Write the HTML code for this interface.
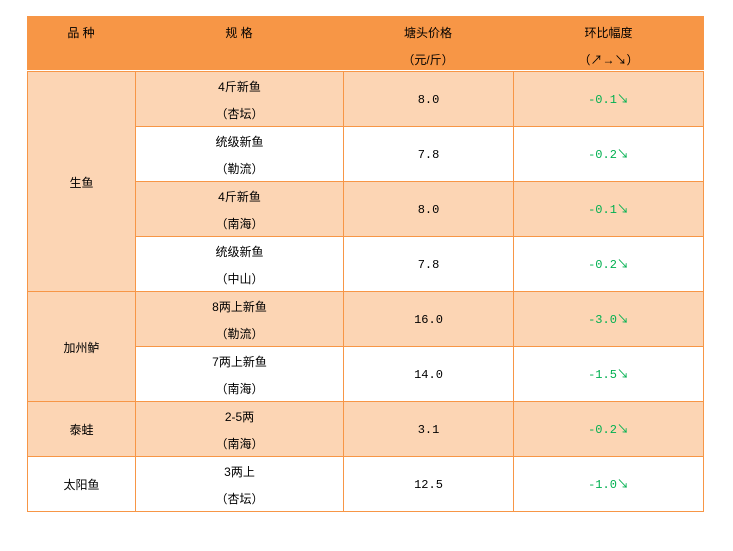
<!DOCTYPE html>
<html><head><meta charset="utf-8"><style>
body{margin:0;width:733px;height:551px;background:#fff;font-family:"Liberation Sans","Noto Sans CJK SC",sans-serif;font-size:12px;color:#000;position:relative;overflow:hidden}
.c{position:absolute;box-sizing:border-box;display:flex;flex-direction:column;align-items:center;justify-content:center;text-align:center;line-height:27px;padding-top:3px}
.h{background:#F79646;justify-content:flex-start;padding-top:4px}
.o{background:#FCD5B4}
.w{background:#fff}
.b{border:1px solid #F79646}
.g{color:#00B050;font-family:"Liberation Mono","Noto Sans CJK SC",monospace}
.n{font-family:"Liberation Mono",monospace}
</style></head><body>
<div class="c h" style="left:27px;top:16px;width:677px;height:55px"></div>
<div class="c h" style="left:27px;top:16px;width:108px;height:55px">品 种</div>
<div class="c h" style="left:135px;top:16px;width:208px;height:55px">规 格</div>
<div class="c h" style="left:343px;top:16px;width:170px;height:55px"><div>塘头价格</div><div>（元/斤）</div></div>
<div class="c h" style="left:513px;top:16px;width:191px;height:55px"><div>环比幅度</div><div>（↗→↘）</div></div>
<div style="position:absolute;left:27px;top:70px;width:677px;height:1px;background:#fff"></div>

<div class="c o b" style="left:27px;top:71px;width:109px;height:221px">生鱼</div>
<div class="c o b" style="left:27px;top:291px;width:109px;height:111px">加州鲈</div>
<div class="c o b" style="left:27px;top:401px;width:109px;height:56px">泰蛙</div>
<div class="c w b" style="left:27px;top:456px;width:109px;height:56px">太阳鱼</div>

<div class="c o b" style="left:135px;top:71px;width:209px;height:56px"><div>4斤新鱼</div><div>（杏坛）</div></div>
<div class="c o b" style="left:343px;top:71px;width:171px;height:56px"><span class="n">8.0</span></div>
<div class="c o b" style="left:513px;top:71px;width:191px;height:56px"><span class="g">-0.1↘</span></div>

<div class="c w b" style="left:135px;top:126px;width:209px;height:56px"><div>统级新鱼</div><div>（勒流）</div></div>
<div class="c w b" style="left:343px;top:126px;width:171px;height:56px"><span class="n">7.8</span></div>
<div class="c w b" style="left:513px;top:126px;width:191px;height:56px"><span class="g">-0.2↘</span></div>

<div class="c o b" style="left:135px;top:181px;width:209px;height:56px"><div>4斤新鱼</div><div>（南海）</div></div>
<div class="c o b" style="left:343px;top:181px;width:171px;height:56px"><span class="n">8.0</span></div>
<div class="c o b" style="left:513px;top:181px;width:191px;height:56px"><span class="g">-0.1↘</span></div>

<div class="c w b" style="left:135px;top:236px;width:209px;height:56px"><div>统级新鱼</div><div>（中山）</div></div>
<div class="c w b" style="left:343px;top:236px;width:171px;height:56px"><span class="n">7.8</span></div>
<div class="c w b" style="left:513px;top:236px;width:191px;height:56px"><span class="g">-0.2↘</span></div>

<div class="c o b" style="left:135px;top:291px;width:209px;height:56px"><div>8两上新鱼</div><div>（勒流）</div></div>
<div class="c o b" style="left:343px;top:291px;width:171px;height:56px"><span class="n">16.0</span></div>
<div class="c o b" style="left:513px;top:291px;width:191px;height:56px"><span class="g">-3.0↘</span></div>

<div class="c w b" style="left:135px;top:346px;width:209px;height:56px"><div>7两上新鱼</div><div>（南海）</div></div>
<div class="c w b" style="left:343px;top:346px;width:171px;height:56px"><span class="n">14.0</span></div>
<div class="c w b" style="left:513px;top:346px;width:191px;height:56px"><span class="g">-1.5↘</span></div>

<div class="c o b" style="left:135px;top:401px;width:209px;height:56px"><div>2-5两</div><div>（南海）</div></div>
<div class="c o b" style="left:343px;top:401px;width:171px;height:56px"><span class="n">3.1</span></div>
<div class="c o b" style="left:513px;top:401px;width:191px;height:56px"><span class="g">-0.2↘</span></div>

<div class="c w b" style="left:135px;top:456px;width:209px;height:56px"><div>3两上</div><div>（杏坛）</div></div>
<div class="c w b" style="left:343px;top:456px;width:171px;height:56px"><span class="n">12.5</span></div>
<div class="c w b" style="left:513px;top:456px;width:191px;height:56px"><span class="g">-1.0↘</span></div>
</body></html>
